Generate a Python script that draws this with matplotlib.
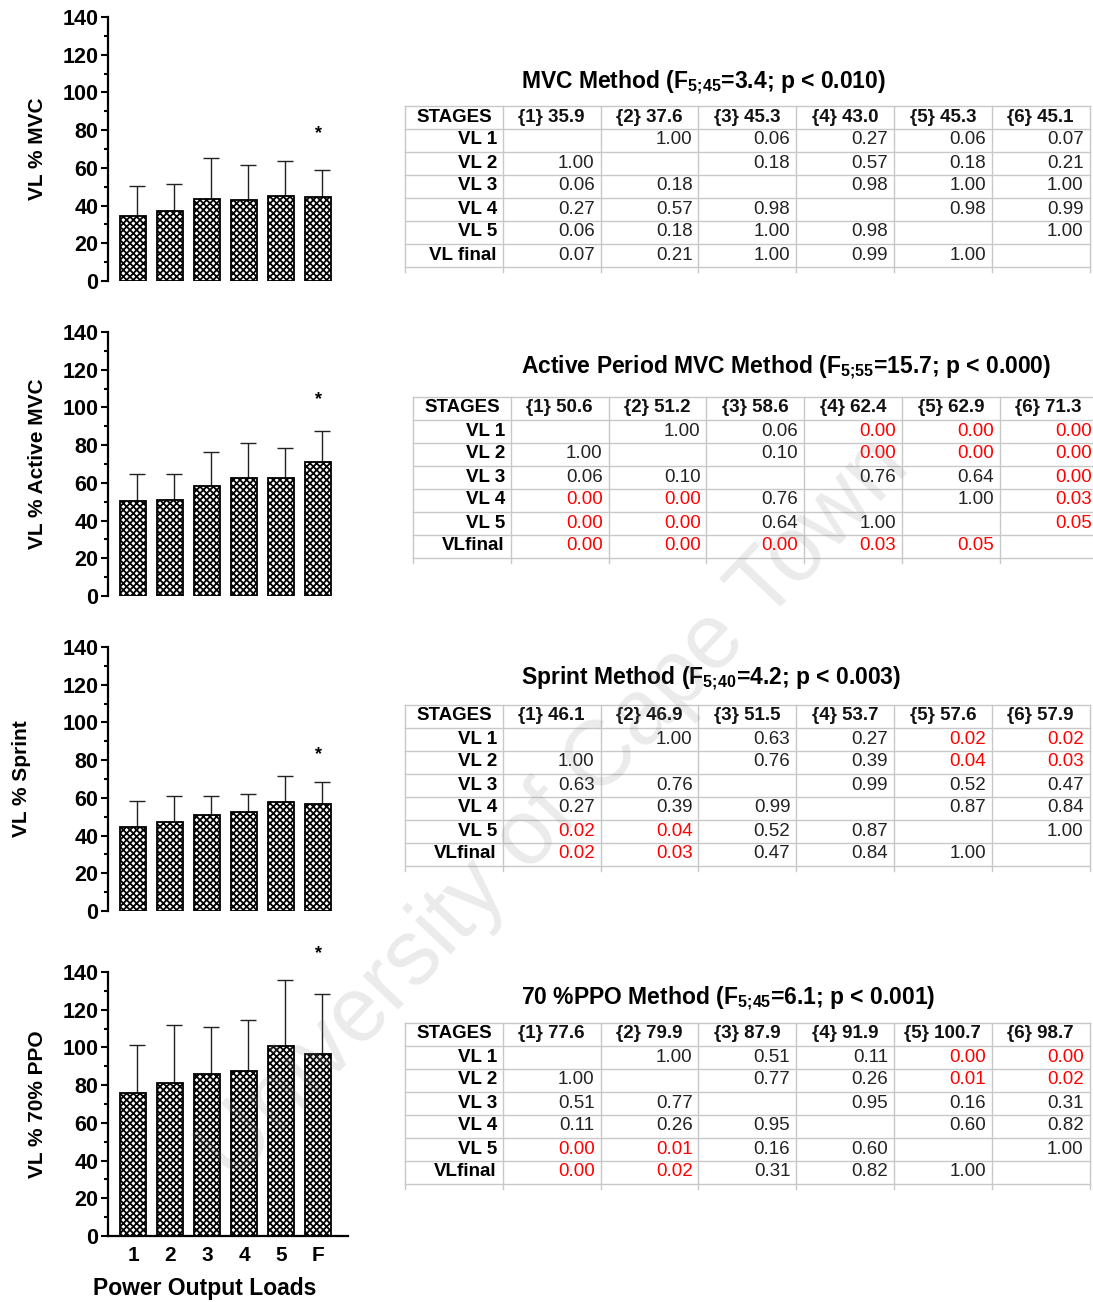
import matplotlib
matplotlib.use('Agg')
import matplotlib.pyplot as plt
import numpy as np

plt.rcParams['font.family'] = ['Liberation Sans', 'DejaVu Sans']
plt.rcParams['mathtext.fontset'] = 'custom'
plt.rcParams['mathtext.rm'] = 'Liberation Sans'
plt.rcParams['mathtext.bf'] = 'Liberation Sans:bold'
plt.rcParams['hatch.linewidth'] = 1.3

# ---- bar chart data ----
loads = ['1', '2', '3', '4', '5', 'F']

mvc_mean = [34.6, 36.9, 43.6, 43.1, 45.2, 44.5]
mvc_sd = [15.9, 14.6, 21.8, 18.5, 18.3, 14.4]

active_mean = [50.5, 51.1, 58.5, 62.5, 62.7, 71.1]
active_sd = [14.1, 13.7, 17.9, 18.7, 15.8, 16.6]

sprint_mean = [44.7, 47.2, 50.7, 52.6, 57.7, 56.8]
sprint_sd = [13.4, 14.0, 10.5, 9.7, 14.1, 11.8]

ppo_mean = [75.9, 81.3, 85.9, 87.7, 100.8, 96.4]
ppo_sd = [25.4, 30.8, 25.0, 26.9, 35.2, 31.8]

star_y = [78, 104, 83, 150]
ylabels = ['VL % MVC', 'VL % Active MVC', 'VL % Sprint', 'VL % 70% PPO']

# ---- table data ----
row_labels_mvc = ['VL 1', 'VL 2', 'VL 3', 'VL 4', 'VL 5', 'VL final']
row_labels = ['VL 1', 'VL 2', 'VL 3', 'VL 4', 'VL 5', 'VLfinal']

mvc_hdr = ['35.9', '37.6', '45.3', '43.0', '45.3', '45.1']
active_hdr = ['50.6', '51.2', '58.6', '62.4', '62.9', '71.3']
sprint_hdr = ['46.1', '46.9', '51.5', '53.7', '57.6', '57.9']
ppo_hdr = ['77.6', '79.9', '87.9', '91.9', '100.7', '98.7']

N = None
mvc_p = [[N, 1.00, 0.06, 0.27, 0.06, 0.07],
         [1.00, N, 0.18, 0.57, 0.18, 0.21],
         [0.06, 0.18, N, 0.98, 1.00, 1.00],
         [0.27, 0.57, 0.98, N, 0.98, 0.99],
         [0.06, 0.18, 1.00, 0.98, N, 1.00],
         [0.07, 0.21, 1.00, 0.99, 1.00, N]]
active_p = [[N, 1.00, 0.06, 0.00, 0.00, 0.00],
            [1.00, N, 0.10, 0.00, 0.00, 0.00],
            [0.06, 0.10, N, 0.76, 0.64, 0.00],
            [0.00, 0.00, 0.76, N, 1.00, 0.03],
            [0.00, 0.00, 0.64, 1.00, N, 0.05],
            [0.00, 0.00, 0.00, 0.03, 0.05, N]]
sprint_p = [[N, 1.00, 0.63, 0.27, 0.02, 0.02],
            [1.00, N, 0.76, 0.39, 0.04, 0.03],
            [0.63, 0.76, N, 0.99, 0.52, 0.47],
            [0.27, 0.39, 0.99, N, 0.87, 0.84],
            [0.02, 0.04, 0.52, 0.87, N, 1.00],
            [0.02, 0.03, 0.47, 0.84, 1.00, N]]
ppo_p = [[N, 1.00, 0.51, 0.11, 0.00, 0.00],
         [1.00, N, 0.77, 0.26, 0.01, 0.02],
         [0.51, 0.77, N, 0.95, 0.16, 0.31],
         [0.11, 0.26, 0.95, N, 0.60, 0.82],
         [0.00, 0.01, 0.16, 0.60, N, 1.00],
         [0.00, 0.02, 0.31, 0.82, 1.00, N]]

titles = [r'MVC Method (F$_{\mathbf{5;\!45}}$=3.4; p < 0.010)',
          r'Active Period MVC Method (F$_{\mathbf{5;\!55}}$=15.7; p < 0.000)',
          r'Sprint Method (F$_{\mathbf{5;\!40}}$=4.2; p < 0.003)',
          r'70 %PPO Method (F$_{\mathbf{5;\!45}}$=6.1; p < 0.001)']

W, H = 1093, 1302
fig = plt.figure(figsize=(W / 100, H / 100), dpi=100)

# ---- bar panels ----
panel_bottoms = [281, 596, 911, 1236]  # pixel row of y=0
means = [mvc_mean, active_mean, sprint_mean, ppo_mean]
sds = [mvc_sd, active_sd, sprint_sd, ppo_sd]
label_x = [-0.255, -0.255, -0.32, -0.255]
x = np.arange(len(loads))

for k in range(4):
    ax = fig.add_axes([108 / W, 1 - panel_bottoms[k] / H, 240 / W, 264 / H])
    ax.bar(x, means[k], width=0.7, color='white', edgecolor='black',
           hatch='xxxxx', linewidth=1.3, zorder=3)
    ax.errorbar(x + 0.1, means[k], yerr=[np.zeros(6), sds[k]], fmt='none',
                ecolor='#222222', elinewidth=1.0, capsize=5.5, capthick=1.0,
                zorder=2)
    ax.text(x[-1], star_y[k], '*', ha='center', va='center', fontsize=13,
            fontweight='bold', clip_on=False)
    ax.set_xlim(-0.68, 5.81)
    ax.set_ylim(0, 140)
    ax.set_yticks(np.arange(0, 141, 20))
    ax.set_yticks(np.arange(0, 141, 10), minor=True)
    for lab in ax.get_yticklabels():
        lab.set_fontweight('bold')
        lab.set_fontsize(15.5)
    ax.tick_params(axis='y', which='major', length=5, width=1.5, pad=2)
    ax.tick_params(axis='y', which='minor', length=3, width=1.5)
    ax.spines['left'].set_linewidth(1.6)
    ax.spines['top'].set_visible(False)
    ax.spines['right'].set_visible(False)
    ax.set_ylabel(ylabels[k], fontsize=15, fontweight='bold')
    ax.yaxis.set_label_coords(label_x[k], 0.5)
    if k < 3:
        ax.spines['bottom'].set_visible(False)
        ax.set_xticks([])
    else:
        ax.spines['bottom'].set_linewidth(1.6)
        ax.set_xticks(x)
        ax.set_xticklabels(loads, fontsize=15, fontweight='bold')
        ax.tick_params(axis='x', length=0, pad=7)
        ax.set_xlabel('Power Output Loads', fontsize=16.5, fontweight='bold')
        ax.xaxis.set_label_coords(0.404, -0.155)


# ---- tables ----
def draw_table(left, header_y, title_y, title, hdr, rlabels, pvals):
    cw, rh = 97.8, 23.0
    top = header_y - rh / 2
    tax = fig.add_axes([left / W, 1 - (top + 7 * rh) / H, 7 * cw / W, 7 * rh / H])
    tax.set_xlim(0, 7)
    tax.set_ylim(7, 0)
    tax.axis('off')
    grid = '#c8c8c8'
    for i in range(8):
        tax.plot([0, 7], [i, i], color=grid, lw=1.0, clip_on=False)
    for j in range(8):
        tax.plot([j, j], [0, 7.25], color=grid, lw=1.0, clip_on=False)
    tax.text(0.5, 0.5, 'STAGES', ha='center', va='center', fontsize=13.5,
             fontweight='bold')
    for j, h in enumerate(hdr):
        tax.text(j + 1.5, 0.5, '{%d} %s' % (j + 1, h), ha='center',
                 va='center', fontsize=13.5, fontweight='bold', color='#111111')
    pad = 0.06
    for i, lab in enumerate(rlabels):
        tax.text(1 - pad, i + 1.5, lab, ha='right', va='center', fontsize=13.5,
                 fontweight='bold')
        for j, v in enumerate(pvals[i]):
            if v is None:
                continue
            col = 'red' if v <= 0.05 else '#222222'
            tax.text(j + 2 - pad, i + 1.5, '%.2f' % v, ha='right',
                     va='center', fontsize=13.5, color=col)
    fig.text(521 / W, 1 - (title_y + 7) / H, title, ha='left', va='baseline',
             fontsize=16.5, fontweight='bold')


draw_table(405, 117, 82, titles[0], mvc_hdr, row_labels_mvc, mvc_p)
draw_table(413, 408, 367, titles[1], active_hdr, row_labels, active_p)
draw_table(405, 716, 678, titles[2], sprint_hdr, row_labels, sprint_p)
draw_table(405, 1034, 998, titles[3], ppo_hdr, row_labels, ppo_p)

# watermark
fig.text(555 / W, 1 - 810 / H, 'University of Cape Town', ha='center',
         va='center', rotation=46.5, fontsize=66, color='gray', alpha=0.16,
         zorder=20)

fig.savefig('out.png', dpi=100)
